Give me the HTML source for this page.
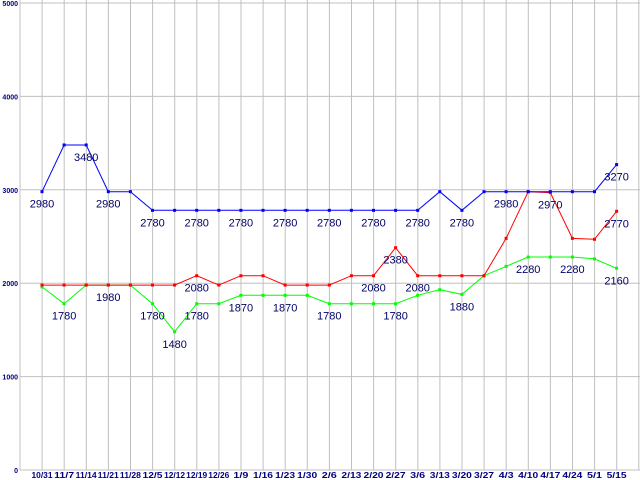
<!DOCTYPE html>
<html><head><meta charset="utf-8"><style>
html,body{margin:0;padding:0;background:#fff}
svg{display:block}
text{font-family:"Liberation Sans",sans-serif}
</style></head><body>
<svg id="c" width="640" height="480" xmlns="http://www.w3.org/2000/svg"></svg>
<script>
const s=document.getElementById('c');let h='';
const X=i=>42+i*22.1, Y=v=>470-v*0.0934;
for(let k=0;k<=28;k++){const x=(20+k*22.1).toFixed(1);h+=`<line x1="${x}" y1="0" x2="${x}" y2="470" stroke="#c0c0c0"/>`;}
for(let v=0;v<=5000;v+=1000){const y=Y(v).toFixed(1);h+=`<line x1="20" y1="${y}" x2="640" y2="${y}" stroke="#c0c0c0"/><text x="18" y="${(+y+3)}" font-size="7" font-weight="bold" fill="#000080" text-anchor="end">${v}</text>`;}
const labs=["10/31","11/7","11/14","11/21","11/28","12/5","12/12","12/19","12/26","1/9","1/16","1/23","1/30","2/6","2/13","2/20","2/27","3/6","3/13","3/20","3/27","4/3","4/10","4/17","4/24","5/1","5/15"];
labs.forEach((l,i)=>h+=`<text x="${X(i)}" y="478" font-size="8" font-weight="bold" fill="#000080" text-anchor="middle" textLength="${l.length>4?21:l.length*5}" lengthAdjust="spacingAndGlyphs">${l}</text>`);
const blue=[2980,3480,3480,2980,2980,2780,2780,2780,2780,2780,2780,2780,2780,2780,2780,2780,2780,2780,2980,2780,2980,2980,2980,2980,2980,2980,3270];
const red=[1980,1980,1980,1980,1980,1980,1980,2080,1980,2080,2080,1980,1980,1980,2080,2080,2380,2080,2080,2080,2080,2480,2980,2970,2480,2470,2770];
const green=[1960,1780,1980,1980,1980,1780,1480,1780,1780,1870,1870,1870,1870,1780,1780,1780,1780,1870,1930,1880,2080,2180,2280,2280,2280,2260,2160];
function ser(d,c){h+=`<polyline fill="none" stroke="${c}" stroke-width="1" points="${d.map((v,i)=>X(i).toFixed(1)+','+Y(v).toFixed(1)).join(' ')}"/>`;
d.forEach((v,i)=>h+=`<rect x="${X(i)-1.5}" y="${Y(v)-1.5}" width="3" height="3" fill="${c}"/>`);}
ser(green,'#00ff00');ser(red,'#ff0000');ser(blue,'#0000ff');
const L=[[0,2980,'b'],[2,3480,'b'],[3,2980,'b'],[5,2780,'b'],[7,2780,'b'],[9,2780,'b'],[11,2780,'b'],[13,2780,'b'],[15,2780,'b'],[17,2780,'b'],[19,2780,'b'],[21,2980,'b'],[23,2970,'r'],[26,3270,'b'],
[3,1980,'r'],[7,2080,'r'],[15,2080,'r'],[16,2380,'r'],[17,2080,'r'],[26,2770,'r'],
[1,1780,'g'],[5,1780,'g'],[6,1480,'g'],[7,1780,'g'],[9,1870,'g'],[11,1870,'g'],[13,1780,'g'],[16,1780,'g'],[19,1880,'g'],[22,2280,'g'],[24,2280,'g'],[26,2160,'g']];
const vals={b:blue,r:red,g:green};
L.forEach(([i,t,k])=>{const y=Y(vals[k][i])+16;h+=`<text x="${X(i)}" y="${y}" font-size="11" fill="#000066" text-anchor="middle">${t}</text>`;});
s.innerHTML=h;
</script>
</body></html>
